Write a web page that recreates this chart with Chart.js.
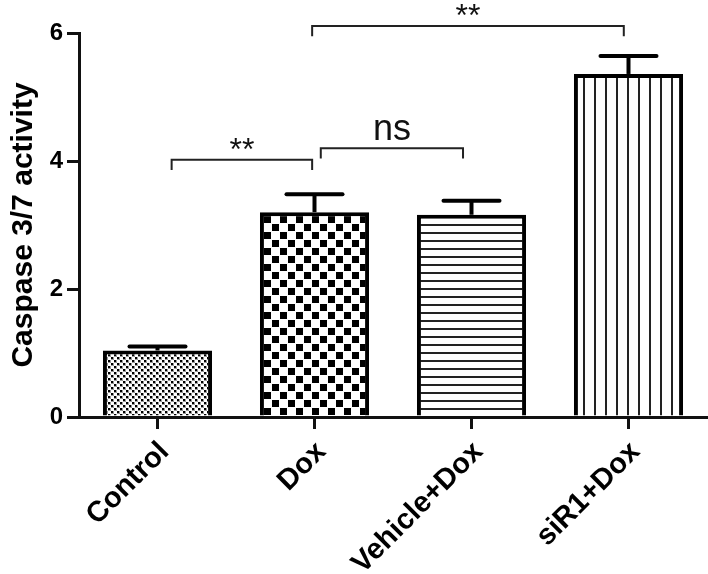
<!DOCTYPE html>
<html>
<head>
<meta charset="utf-8">
<script src="https://cdn.jsdelivr.net/npm/chart.js@4/dist/chart.umd.min.js"></script>
<style>
  html, body { margin: 0; padding: 0; background: #fff; }
  #c { display: block; }
</style>
</head>
<body>
<canvas id="c" width="708" height="574" style="width:708px;height:574px"></canvas>
<script>
// ---- data ----
const categories = ['Control', 'Dox', 'Vehicle+Dox', 'siR1+Dox'];
const means = [1.04, 3.2, 3.16, 5.36];
const sems = [0.06, 0.28, 0.22, 0.28];
const yTickValues = [0, 2, 4, 6];
const yTitle = 'Caspase 3/7 activity';
// significance comparisons (category positions, bracket level in data units)
const compFrom = [0.09, 1.04, 0.985];
const compTo = [0.985, 1.946, 2.97];
const compLevel = [4.02, 4.20, 6.11];
const compLabel = ['**', 'ns', '**'];

// ---- patterns ----
function makePattern(w, h, draw) {
  const c = document.createElement('canvas');
  c.width = w; c.height = h;
  const g = c.getContext('2d');
  g.fillStyle = '#fff';
  g.fillRect(0, 0, w, h);
  draw(g);
  return document.getElementById('c').getContext('2d').createPattern(c, 'repeat');
}
const patControl = makePattern(6, 6, g => {
  g.fillStyle = '#999';
  g.fillRect(0, 0, 3, 3);
  g.fillRect(3, 3, 3, 3);
  g.fillStyle = '#000';
  g.fillRect(0, 0, 2, 2);
  g.fillRect(3, 3, 2, 2);
});
const patDox = makePattern(16, 16, g => {
  g.fillStyle = '#000';
  g.fillRect(0, 0, 7, 7);
  g.fillRect(8, 8, 7, 7);
});
const patVehicle = makePattern(4, 8, g => {
  g.fillStyle = '#222';
  g.fillRect(0, 0, 4, 2);
});
const patSiR1 = makePattern(11, 4, g => {
  g.fillStyle = '#222';
  g.fillRect(0, 0, 2, 4);
});

const FONT = "'Liberation Sans', Arial, Helvetica, sans-serif";

const errorBars = {
  id: 'errorBars',
  afterDatasetsDraw(chart) {
    const ctx = chart.ctx;
    const meta = chart.getDatasetMeta(0);
    const y = chart.scales.y;
    ctx.save();
    ctx.strokeStyle = '#000';
    ctx.lineWidth = 4;
    meta.data.forEach((bar, i) => {
      const x = bar.x;
      const yTop = y.getPixelForValue(means[i] + sems[i]);
      const yMid = y.getPixelForValue(means[i]);
      ctx.lineCap = 'butt';
      ctx.beginPath();
      ctx.moveTo(x, yMid);
      ctx.lineTo(x, yTop);
      ctx.stroke();
      ctx.lineCap = 'round';
      ctx.beginPath();
      ctx.moveTo(x - 28, yTop);
      ctx.lineTo(x + 28, yTop);
      ctx.stroke();
    });
    ctx.restore();
  }
};

const brackets = {
  id: 'brackets',
  afterDraw(chart) {
    const ctx = chart.ctx;
    const xs = chart.scales.x, ys = chart.scales.y;
    ctx.save();
    ctx.strokeStyle = '#222';
    ctx.lineWidth = 2;
    ctx.fillStyle = '#111';
    ctx.textAlign = 'center';
    ctx.textBaseline = 'alphabetic';
    for (let k = 0; k < compLabel.length; k++) {
      const x1 = xs.getPixelForValue(compFrom[k]);
      const x2 = xs.getPixelForValue(compTo[k]);
      const yy = ys.getPixelForValue(compLevel[k]);
      const yd = ys.getPixelForValue(compLevel[k] - 0.16);
      ctx.beginPath();
      ctx.moveTo(x1, yd);
      ctx.lineTo(x1, yy);
      ctx.lineTo(x2, yy);
      ctx.lineTo(x2, yd);
      ctx.stroke();
      const isNs = compLabel[k] === 'ns';
      ctx.font = (isNs ? '36px ' : '32px ') + FONT;
      ctx.fillText(compLabel[k], (x1 + x2) / 2, yy - (isNs ? 8 : 0));
    }
    ctx.restore();
  }
};

new Chart(document.getElementById('c'), {
  type: 'bar',
  data: {
    labels: categories,
    datasets: [{
      data: means,
      backgroundColor: [patControl, patDox, patVehicle, patSiR1],
      borderColor: '#000',
      borderWidth: 4,
      barPercentage: 0.695,
      categoryPercentage: 1.0
    }]
  },
  options: {
    responsive: false,
    animation: false,
    devicePixelRatio: 1,
    layout: { padding: { top: 33, right: 1, left: 0, bottom: 0 } },
    plugins: { legend: { display: false }, tooltip: { enabled: false } },
    scales: {
      x: {
        grid: { display: true, drawOnChartArea: false, drawTicks: true, offset: false,
                tickLength: 12, lineWidth: 3, color: '#111' },
        border: { display: true, color: '#111', width: 3 },
        ticks: { color: '#000', font: { family: FONT, size: 29, weight: 'bold' },
                 maxRotation: 45, minRotation: 45, padding: 6, labelOffset: 7 },
        afterFit(s) { s.height = 157; }
      },
      y: {
        min: 0, max: 6,
        afterBuildTicks(s) { s.ticks = yTickValues.map(v => ({ value: v })); },
        grid: { display: true, drawOnChartArea: false, drawTicks: true,
                tickLength: 12, lineWidth: 3, color: '#111' },
        border: { display: true, color: '#111', width: 3 },
        ticks: { color: '#000', font: { family: FONT, size: 24, weight: 'bold' }, padding: 4 },
        title: { display: true, text: yTitle, color: '#000',
                 font: { family: FONT, size: 30, weight: 'bold' }, padding: { top: 6, bottom: 0 } },
        afterFit(s) { s.width = 79; }
      }
    }
  },
  plugins: [errorBars, brackets]
});
</script>
</body>
</html>
